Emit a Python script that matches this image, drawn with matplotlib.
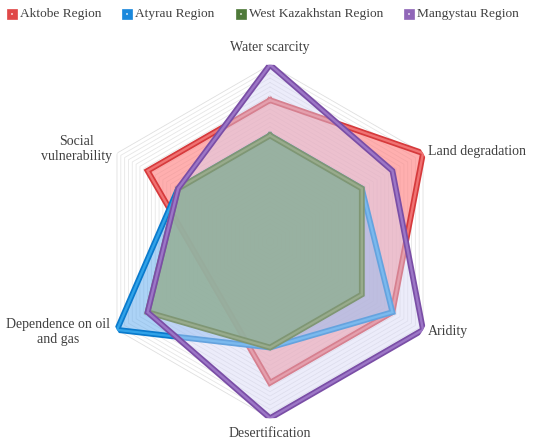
import numpy as np
import matplotlib
matplotlib.use("Agg")
import matplotlib.pyplot as plt
import matplotlib.patheffects as pe
from matplotlib.patches import Rectangle

# ---- data ----
categories = ["Water scarcity", "Land degradation", "Aridity", "Desertification",
              "Dependence on oil\nand gas", "Social\nvulnerability"]
series_names = ["Aktobe Region", "Atyrau Region", "West Kazakhstan Region", "Mangystau Region"]
aktobe = [4, 5, 4, 4, 2, 4]
atyrau = [3, 3, 4, 3, 5, 3]
west_kaz = [3, 3, 3, 3, 4, 3]
mangystau = [5, 4, 5, 5, 4, 3]
values = [aktobe, atyrau, west_kaz, mangystau]
r_max = 5
n_rings = 40

# ---- styles ----
fill_colors = ["#ff7f7f", "#5aa8ee", "#92af96", "#d6d6f6"]
fill_alpha = [0.62, 0.5, 0.85, 0.45]
fill_z = [1, 3, 8, 7]
line_z = [2, 4, 9, 10]
line_light = ["#f07272", "#30a2e8", "#98ab8c", "#9c76c6"]
line_dark = ["#d63a3c", "#0a7acc", "#7f9674", "#7a4ea6"]
legend_colors = ["#e04848", "#1a88dc", "#4f7a3a", "#9066b8"]

W, H, DPI = 550, 444, 100
fig = plt.figure(figsize=(W / DPI, H / DPI), dpi=DPI)

cx, cy, R = 270.0, 241.5, 176.7
ax = fig.add_axes([(cx - R) / W, (H - cy - R) / H, 2 * R / W, 2 * R / H], projection="polar")
ax.set_theta_offset(np.pi / 2)
ax.set_theta_direction(-1)
ax.set_ylim(0, r_max)
ax.grid(False)
ax.set_xticks([])
ax.set_yticks([])
ax.spines["polar"].set_visible(False)
ax.patch.set_alpha(0)

n = len(categories)
theta = np.linspace(0, 2 * np.pi, n, endpoint=False)
theta_c = np.append(theta, theta[0])

# hexagonal gridlines
for k in range(1, n_rings + 1):
    rr = r_max * k / n_rings
    ax.plot(theta_c, [rr] * (n + 1), color="#dcdcdc", lw=0.6, zorder=0.5,
            alpha=0.9 if k == n_rings else 0.7)

for i, v in enumerate(values):
    vc = np.append(v, v[0])
    ax.fill(theta_c, vc, color=fill_colors[i], alpha=fill_alpha[i], lw=0, zorder=fill_z[i])
    ax.plot(theta_c, vc, color=line_light[i], lw=1.7, zorder=line_z[i],
            solid_joinstyle="miter",
            path_effects=[pe.Stroke(linewidth=4.2, foreground=line_dark[i]), pe.Normal()])

# category labels
offsets = [(0, 17, "center", "center"),
           (5, 2, "left", "center"),
           (5, -2, "left", "center"),
           (0, -15, "center", "center"),
           (-7, -2, "right", "center"),
           (-5, 4, "right", "center")]
font = ["Liberation Serif", "DejaVu Serif"]
for t, lab, (dx, dy, ha, va) in zip(theta, categories, offsets):
    ax.annotate(lab, xy=(t, r_max), xytext=(dx, dy), textcoords="offset pixels",
                ha=ha, va=va, multialignment="center", fontsize=10,
                color="#404040", family=font, annotation_clip=False)

# legend
leg_x = [7, 122, 236, 404]
for x0, name, col in zip(leg_x, series_names, legend_colors):
    fig.patches.append(Rectangle(((x0) / W, (H - 19) / H), 10 / W, 10 / H,
                                 transform=fig.transFigure, facecolor=col,
                                 edgecolor=col, lw=0.5))
    fig.patches.append(Rectangle(((x0 + 4) / W, (H - 15) / H), 2 / W, 2 / H,
                                 transform=fig.transFigure, facecolor="#ffffff",
                                 alpha=0.6, lw=0))
    fig.text((x0 + 13) / W, (H - 14) / H, name, ha="left", va="center",
             fontsize=9.6, color="#404040", family=font)

fig.savefig("out.png", dpi=DPI)
